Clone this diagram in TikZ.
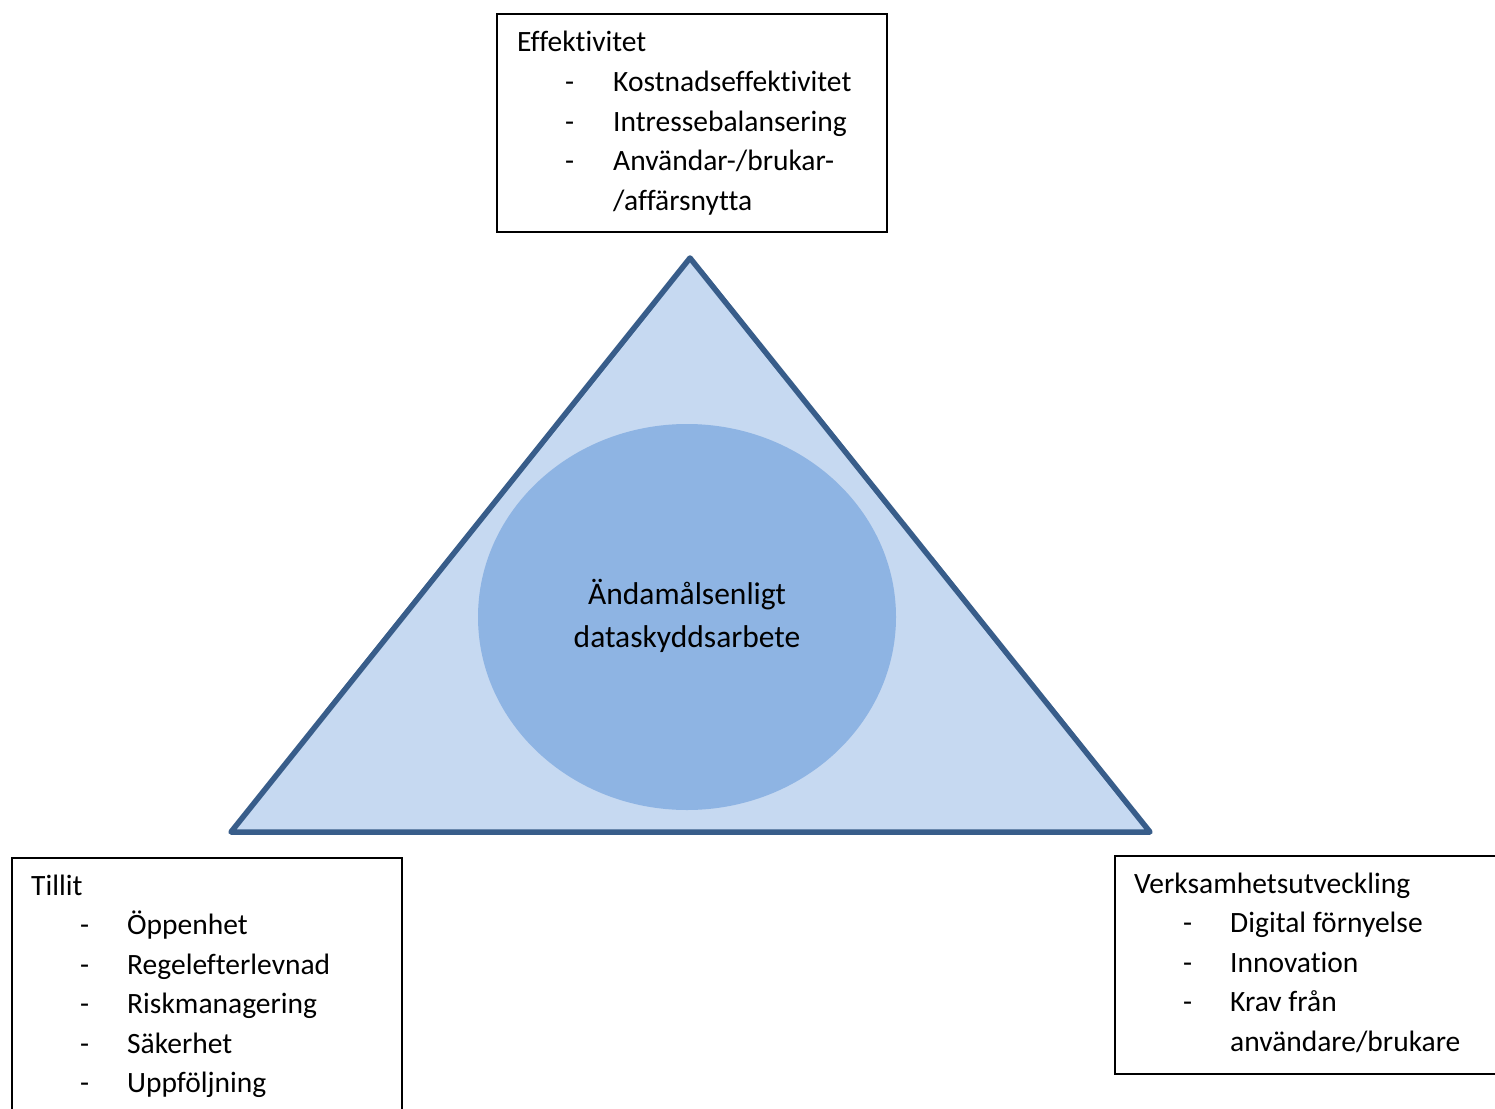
\documentclass[tikz,border=0pt]{standalone}
\usepackage{fontspec}
\setmainfont[Ligatures={NoCommon,NoContextual}]{Carlito}
\usetikzlibrary{shapes.geometric}
\definecolor{triline}{HTML}{385D8A}
\definecolor{trifill}{HTML}{C6D9F1}
\definecolor{ellfill}{HTML}{8EB4E3}
\begin{document}
\begin{tikzpicture}[x=1pt,y=-1pt,
  txt/.style={anchor=base west,inner sep=0pt,font=\fontsize{29.5}{34}\selectfont},
  ctxt/.style={anchor=base,inner sep=0pt,font=\fontsize{31.5}{36}\selectfont},
  box/.style={draw=black,line width=1.6pt,anchor=north west,inner sep=0pt}]
\useasboundingbox (0,0) rectangle (1495,1108);
\clip (0,0) rectangle (1495,1108);
% triangle
\coordinate (apex) at (690,258);
\coordinate (bl) at (231,832);
\coordinate (br) at (1150,832);
\draw[triline,fill=trifill,line width=5.5pt,line join=round] (apex) -- (br) -- (bl) -- cycle;
\node[ellipse,fill=ellfill,minimum width=418pt,minimum height=386pt,inner sep=0pt] (ell) at (687,617) {};
\node[ctxt] (c1) at (687,604) {Ändamålsenligt};
\node[ctxt] (c2) at (687,647) {dataskyddsarbete};
% top box
\node[box,minimum width=390pt,minimum height=218pt] (topbox) at (496,13) {};
\node[txt] (t0) at (517,52) {Effektivitet};
\foreach \y/\t [count=\i] in {91.5/{Kostnadseffektivitet},131/{Intressebalansering},170.5/{Användar-/brukar-}}{
  \node[txt] (td\i) at (565,\y) {-};
  \node[txt] (ti\i) at (613,\y) {\t};
}
\node[txt] (t5) at (613,210) {/affärsnytta};
% bottom-left box
\node[box,minimum width=390pt,minimum height=300pt] (lbox) at (11,857) {};
\node[txt] (l0) at (31,895) {Tillit};
\foreach \y/\t [count=\i] in {934.5/Öppenhet,974/Regelefterlevnad,1013.5/Riskmanagering,1053/Säkerhet,1092.5/Uppföljning}{
  \node[txt] (ld\i) at (80,\y) {-};
  \node[txt] (li\i) at (127,\y) {\t};
}
% bottom-right box
\node[box,minimum width=420pt,minimum height=218pt] (rbox) at (1114,855) {};
\node[txt] (r0) at (1134,893) {Verksamhetsutveckling};
\foreach \y/\t [count=\i] in {932.5/Digital förnyelse,972/Innovation,1011.5/Krav från}{
  \node[txt] (rd\i) at (1183,\y) {-};
  \node[txt] (ri\i) at (1230,\y) {\t};
}
\node[txt] (r5) at (1230,1051) {användare/brukare};
\end{tikzpicture}
\end{document}
